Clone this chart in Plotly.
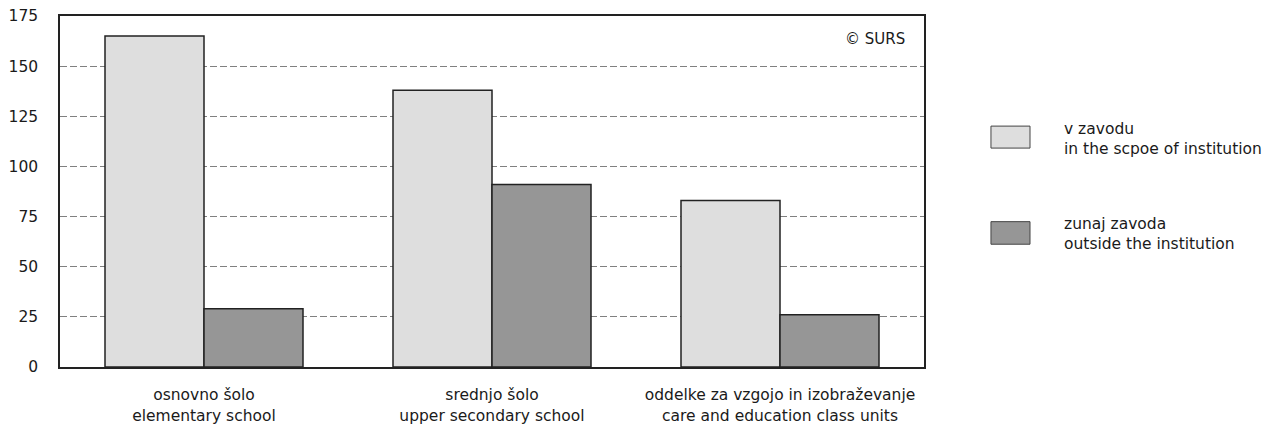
import plotly.graph_objects as go

# categories (two-line labels: Slovenian / English)
categories = [
    "osnovno šolo<br>elementary school",
    "srednjo šolo<br>upper secondary school",
    "oddelke za vzgojo in izobraževanje<br>care and education class units",
]
series_names = [
    ["v zavodu", "in the scpoe of institution"],
    ["zunaj zavoda", "outside the institution"],
]
in_institution = [165, 138, 83]
outside_institution = [29, 91, 26]
y_ticks = [0, 25, 50, 75, 100, 125, 150, 175]

LIGHT = "#dedede"
DARK = "#969696"
EDGE = "#222222"
FONT = "DejaVu Sans, Arial, sans-serif"

fig = go.Figure()
fig.add_bar(x=categories, y=in_institution, marker=dict(color=LIGHT, line=dict(color=EDGE, width=1.5)))
fig.add_bar(x=categories, y=outside_institution, marker=dict(color=DARK, line=dict(color=EDGE, width=1.5)))

fig.update_layout(
    width=1277, height=429,
    margin=dict(l=60, r=353, t=16, b=62),
    barmode="group", bargap=0.3125, bargroupgap=0,
    showlegend=False,
    paper_bgcolor="white", plot_bgcolor="white",
    font=dict(family=FONT, size=15.5, color="#1a1a1a"),
)
fig.update_xaxes(
    showline=True, linecolor=EDGE, linewidth=1.5, mirror=True,
    showgrid=False, ticks="", ticklabelstandoff=13, automargin=False,
)
fig.update_yaxes(
    range=[0, 175], tickvals=y_ticks,
    showline=True, linecolor=EDGE, linewidth=1.5, mirror=True,
    showgrid=True, gridcolor="#808080", gridwidth=1, griddash="7px,3px",
    zeroline=False, ticks="", ticklabelstandoff=17, automargin=False,
)

# source note
fig.add_annotation(x=0.98, y=0.935, xref="paper", yref="paper", text="© SURS",
                   showarrow=False, xanchor="right", yanchor="middle", font=dict(size=15))

# custom legend with large swatches
legend_rows = [(LIGHT, 0.6237, 0.6863, 0.6507), (DARK, 0.3498, 0.4141, 0.3777)]
for (color, y0, y1, yt), names in zip(legend_rows, series_names):
    fig.add_shape(type="rect", xref="paper", yref="paper", x0=1.0775, x1=1.1227, y0=y0, y1=y1,
                  fillcolor=color, line=dict(color="#444444", width=1))
    fig.add_annotation(x=1.1594, y=yt, xref="paper", yref="paper", text="<br>".join(names),
                       showarrow=False, xanchor="left", yanchor="middle", align="left")

# drop the default body margin so the figure sits at the page corner
fig.write_html(
    "out.html",
    config={"displayModeBar": False},
    post_script="document.body.style.margin='0';",
)
